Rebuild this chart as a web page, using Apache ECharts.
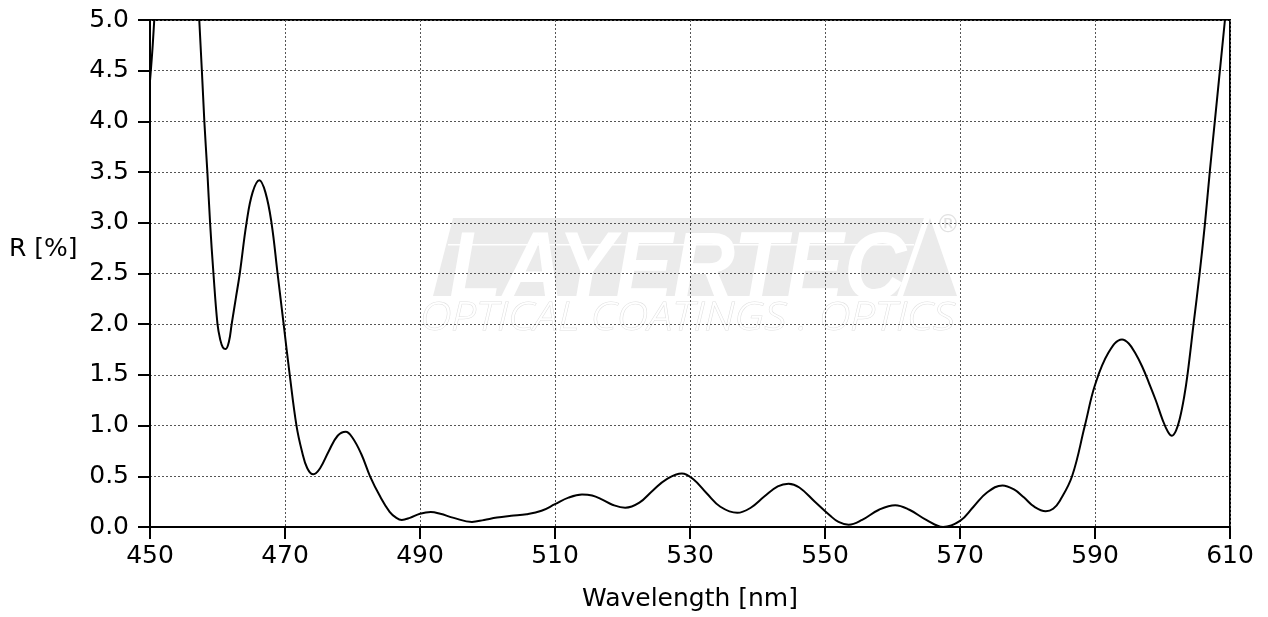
<!DOCTYPE html>
<html>
<head>
<meta charset="utf-8">
<script src="https://cdn.jsdelivr.net/npm/echarts@6/dist/echarts.min.js"></script>
<style>
html,body{margin:0;padding:0;background:#fff;}
#chart{width:1268px;height:617px;}
</style>
</head>
<body>
<div id="chart"></div>
<script>
var wavelengths = [
  450, 450.4, 450.8, 451.5, 453, 455, 456.5, 457.3, 458.05, 458.5, 458.9, 459.4, 460.0, 460.4, 460.8, 461.2,
  461.7, 462.1, 462.7, 463.3, 464.3, 465.2, 466.2, 467.1, 468.0, 468.9, 469.8, 470.7, 471.7, 472.5, 473.3, 474.2,
  475.2, 476.5, 477.8, 479.0, 480.0, 481.3, 482.6, 484.1, 485.5, 486.5, 487.3, 488.5, 490.0, 491.6, 493.0,
  495.0, 497.7, 499.5, 501.4, 503.5, 505.8, 508, 510, 512, 514, 515.5, 517, 518.5, 520.4, 522.5, 524.5, 526.5, 528.8,
  530.5, 532.5, 534.5, 537.0, 539, 541, 543, 544.6, 546.2, 548.5, 550.7, 552.0, 553.5, 555.5, 558, 560.4,
  562.5, 565, 567.5, 570, 572, 574, 576.3, 578, 579.5, 581, 582.7, 583.8, 584.8, 586.6, 588.5, 590.0,
  592, 594.0, 595.0, 596.0, 597.0, 598.0, 599.0, 600.0, 600.8, 601.4, 602.0, 602.6, 603.2, 603.7, 604.6,
  605.5, 606.3, 607.0, 607.75, 608.5, 609.25, 610
];
var reflectance = [
  4.40, 4.75, 5.2, 6.0, 7.0, 6.8, 5.8, 5.0, 4.0, 3.5, 3.0, 2.5, 2.0, 1.85, 1.77, 1.755,
  1.83, 2.0, 2.25, 2.5, 3.0, 3.3, 3.42, 3.3, 3.0, 2.5, 2.0, 1.5, 1.0, 0.75, 0.58, 0.52,
  0.58, 0.75, 0.9, 0.94, 0.88, 0.72, 0.5, 0.30, 0.15, 0.09, 0.07, 0.09, 0.13, 0.147, 0.13,
  0.09, 0.05, 0.07, 0.093, 0.11, 0.126, 0.16, 0.225, 0.29, 0.32, 0.31, 0.27, 0.22, 0.19, 0.24, 0.36, 0.47, 0.527,
  0.47, 0.33, 0.20, 0.14, 0.19, 0.30, 0.40, 0.427, 0.39, 0.25, 0.116, 0.05, 0.023, 0.07, 0.17, 0.215,
  0.17, 0.07, 0.0, 0.06, 0.20, 0.34, 0.41, 0.37, 0.29, 0.20, 0.156, 0.18, 0.26, 0.5, 1.0, 1.40,
  1.72, 1.85, 1.81, 1.71, 1.58, 1.42, 1.25, 1.06, 0.94, 0.90, 0.95, 1.08, 1.28, 1.5, 2.0,
  2.5, 3.0, 3.5, 4.0, 4.5, 5.0, 5.5
];
var xTicks = [450, 470, 490, 510, 530, 550, 570, 590, 610];
var yTicks = [0, 0.5, 1, 1.5, 2, 2.5, 3, 3.5, 4, 4.5, 5];

var seriesData = wavelengths.map(function (w, i) { return [w, reflectance[i]]; });

var chart = echarts.init(document.getElementById('chart'));
var font = 'DejaVu Sans';
var logoGray = '#ebebeb';
chart.setOption({
  animation: false,
  backgroundColor: '#fff',
  grid: { left: 150, right: 38, top: 20, bottom: 87, show: true, borderColor: '#000', borderWidth: 2, backgroundColor: 'transparent' },
  graphic: [
    { type: 'text', left: 9, top: 237, z: 10,
      style: { text: 'R [%]', font: '25px "DejaVu Sans"', fill: '#000' } },
    { type: 'polygon', z: -2, silent: true,
      shape: { points: [[453, 218], [924, 218], [897, 296], [433, 296]] },
      style: { fill: logoGray } },
    { type: 'polygon', z: -2, silent: true,
      shape: { points: [[930, 218], [957, 296], [903, 296]] },
      style: { fill: logoGray } },
    { type: 'text', x: 449, y: 224, z: -1, silent: true, scaleX: 0.89,
      style: { text: 'LAYERTEC', font: 'italic bold 97px "Liberation Sans"', fill: '#ffffff', textVerticalAlign: 'top' } },
    { type: 'rect', z: -1, silent: true,
      shape: { x: 448, y: 244, width: 466, height: 1.5 },
      style: { fill: '#ffffff' } },
    { type: 'text', x: 936, y: 214, z: -1, silent: true,
      style: { text: '®', font: '24px "DejaVu Sans"', fill: '#e2e2e2' } },
    { type: 'text', x: 420, y: 300, z: -1, silent: true, scaleX: 1.15,
      style: { text: 'OPTICAL COATINGS . OPTICS', font: 'italic 300 38px "Open Sans"', fill: '#ffffff', stroke: '#e0e0e0', lineWidth: 1 } }
  ],
  xAxis: {
    type: 'value', min: xTicks[0], max: xTicks[xTicks.length - 1], interval: 20,
    name: 'Wavelength [nm]', nameLocation: 'middle', nameGap: 60,
    nameTextStyle: { fontFamily: font, fontSize: 25, color: '#000' },
    axisLine: { show: true, lineStyle: { color: '#000', width: 2 } },
    axisTick: { show: true, inside: false, length: 12, lineStyle: { color: '#000', width: 2 } },
    axisLabel: { fontFamily: font, fontSize: 25, color: '#000', margin: 17 },
    splitLine: { show: true, lineStyle: { color: '#555', width: 1, type: [2, 2] } }
  },
  yAxis: {
    type: 'value', min: yTicks[0], max: yTicks[yTicks.length - 1], interval: 0.5,
    axisLine: { show: true, lineStyle: { color: '#000', width: 2 } },
    axisTick: { show: true, inside: false, length: 12, lineStyle: { color: '#000', width: 2 } },
    axisLabel: { fontFamily: font, fontSize: 25, color: '#000', margin: 21,
      formatter: function (v) { return v.toFixed(1); } },
    splitLine: { show: true, lineStyle: { color: '#555', width: 1, type: [2, 2] } }
  },
  series: [{
    type: 'line', data: seriesData, showSymbol: false, smooth: 0.4, clip: true,
    lineStyle: { color: '#000', width: 2 }, z: 5
  }]
});
</script>
</body>
</html>
